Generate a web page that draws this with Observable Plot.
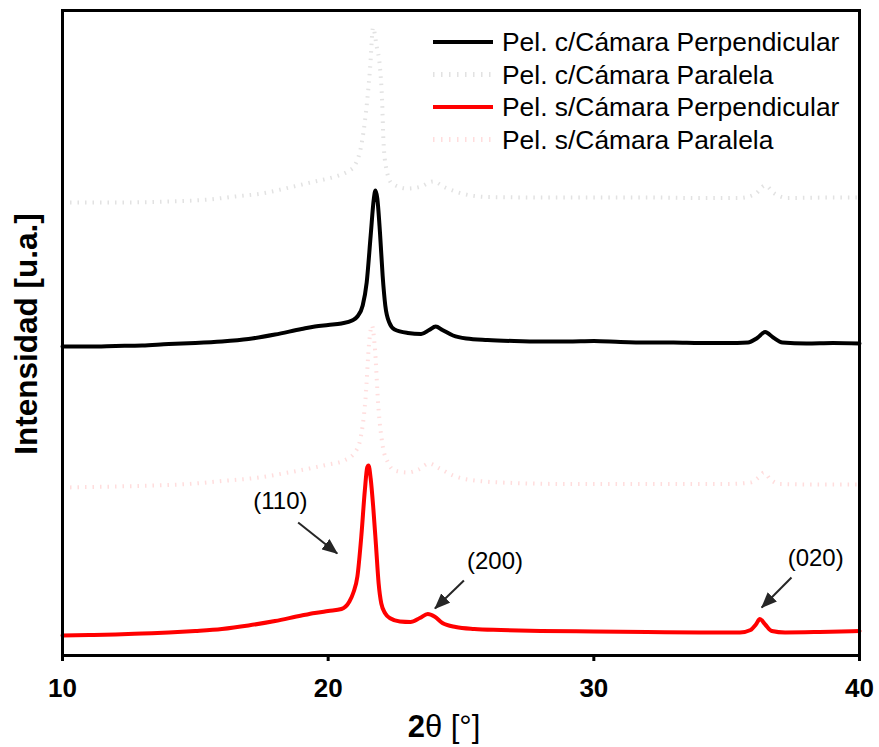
<!DOCTYPE html>
<html>
<head>
<meta charset="utf-8">
<script src="https://cdn.jsdelivr.net/npm/d3@7"></script>
<script src="https://cdn.jsdelivr.net/npm/@observablehq/plot@0.6"></script>
<style>
  html, body { margin: 0; padding: 0; background: #fff; }
  #chart { width: 879px; height: 747px; }
</style>
</head>
<body>
<div id="chart"></div>
<script>
// XRD patterns, 2θ (degrees) vs intensity (arbitrary units)

// Pel. c/Cámara Perpendicular
const cPerpX = [10, 11, 12, 13, 14, 15, 16, 17, 18, 19, 19.5, 20, 20.5, 20.9, 21.1, 21.3, 21.45, 21.6, 21.72, 21.78, 21.85, 21.95, 22.05, 22.15, 22.3, 22.5, 23, 23.5, 23.8, 24.05, 24.3, 24.7, 25.2, 26, 27, 28, 29, 30, 31, 32, 33, 34, 35, 35.8, 36.15, 36.45, 36.75, 37.1, 38, 39, 40];
const cPerpY = [3090, 3090, 3095, 3100, 3115, 3125, 3140, 3165, 3210, 3265, 3290, 3305, 3320, 3350, 3390, 3500, 3730, 4200, 4570, 4650, 4570, 4230, 3800, 3500, 3330, 3260, 3225, 3215, 3255, 3290, 3255, 3200, 3170, 3155, 3145, 3140, 3140, 3145, 3135, 3130, 3130, 3125, 3125, 3130, 3175, 3235, 3180, 3130, 3120, 3125, 3120];

// Pel. c/Cámara Paralela
const cParX = [10, 12, 14, 15.5, 16.5, 17.5, 18.7, 19.5, 20, 20.5, 20.8, 21, 21.28, 21.47, 21.58, 21.69, 21.82, 21.95, 22.03, 22.08, 22.18, 22.4, 23, 23.5, 23.95, 24.4, 24.9, 26, 28, 30, 32, 34, 35.5, 36.1, 36.45, 36.8, 37.3, 39, 40];
const cParY = [4530, 4530, 4540, 4560, 4590, 4620, 4690, 4740, 4770, 4810, 4850, 4900, 5150, 5550, 5880, 6280, 6100, 5880, 5550, 5150, 4880, 4720, 4670, 4690, 4740, 4680, 4630, 4585, 4580, 4580, 4580, 4575, 4575, 4620, 4700, 4620, 4575, 4580, 4580];

// Pel. s/Cámara Perpendicular
const sPerpX = [10, 11, 12, 13, 14, 15, 16, 17, 18, 19, 19.5, 20, 20.5, 20.8, 20.95, 21.1, 21.25, 21.38, 21.47, 21.52, 21.6, 21.7, 21.8, 21.9, 22, 22.15, 22.35, 22.7, 23.1, 23.45, 23.75, 24, 24.3, 24.8, 25.5, 26.5, 28, 30, 32, 34, 35.5, 35.9, 36.1, 36.25, 36.45, 36.7, 37.2, 38.5, 40];
const sPerpY = [200, 205, 210, 220, 230, 245, 265, 300, 345, 400, 425, 445, 465, 540, 630, 790, 1200, 1650, 1880, 1900, 1770, 1470, 1100, 720, 520, 420, 370, 340, 335, 375, 415, 390, 325, 285, 265, 255, 245, 240, 235, 230, 230, 255, 310, 365, 310, 245, 230, 235, 245];

// Pel. s/Cámara Paralela
const sParX = [10, 12, 14, 15, 16, 17.4, 18.5, 19.3, 20, 20.6, 21, 21.2, 21.4, 21.55, 21.65, 21.75, 21.9, 22.05, 22.25, 22.5, 23, 23.4, 23.8, 24.2, 24.7, 25.5, 27, 29, 31, 33, 35, 35.9, 36.2, 36.4, 36.65, 37, 38.5, 40];
const sParY = [1680, 1690, 1705, 1720, 1745, 1780, 1830, 1870, 1910, 1950, 2030, 2150, 2550, 3150, 3300, 3100, 2450, 2100, 1930, 1850, 1830, 1860, 1920, 1870, 1800, 1750, 1725, 1715, 1715, 1715, 1715, 1730, 1780, 1830, 1760, 1715, 1710, 1710];

// Reflection labels: text position and arrow from/to (2θ, intensity)
const peakLabels = ["(110)", "(200)", "(020)"];
const labelX = [18.2, 26.28, 38.35];
const labelY = [1540, 940, 970];
const arrowX1 = [18.87, 25.11, 37.44];
const arrowY1 = [1330, 750, 780];
const arrowX2 = [20.34, 24.02, 36.32];
const arrowY2 = [1020, 470, 480];

const xTicks = [10, 20, 30, 40];
const seriesNames = [
  "Pel. c/Cámara Perpendicular",
  "Pel. c/Cámara Paralela",
  "Pel. s/Cámara Perpendicular",
  "Pel. s/Cámara Paralela"
];

const toRows = (xs, ys) => xs.map((x, i) => ({x, y: ys[i]}));
const cPerp = toRows(cPerpX, cPerpY);
const cPar = toRows(cParX, cParY);
const sPerp = toRows(sPerpX, sPerpY);
const sPar = toRows(sParX, sParY);
const notes = peakLabels.map((label, i) => ({
  label, tx: labelX[i], ty: labelY[i],
  x1: arrowX1[i], y1: arrowY1[i], x2: arrowX2[i], y2: arrowY2[i]
}));

const FONT = "'Liberation Sans', Arial, Helvetica, sans-serif";
const styles = [
  {stroke: "#000000", strokeWidth: 4, dash: null},
  {stroke: "#e2e2e2", strokeWidth: 4, dash: "1.5,6"},
  {stroke: "#ff0000", strokeWidth: 4, dash: null},
  {stroke: "#ffdddd", strokeWidth: 4, dash: "1.5,6"}
];

const lineOpts = (s) => ({
  x: "x", y: "y", stroke: s.stroke, strokeWidth: s.strokeWidth,
  strokeDasharray: s.dash ?? undefined, curve: "monotone-x",
  strokeLinejoin: "round", strokeLinecap: s.dash ? "butt" : "round"
});

const chart = Plot.plot({
  width: 879,
  height: 747,
  marginTop: 10,
  marginRight: 20,
  marginBottom: 92,
  marginLeft: 62,
  style: {fontFamily: FONT, background: "#fff", color: "#000"},
  x: {domain: [10, 40]},
  y: {domain: [0, 6450], axis: null},
  marks: [
    Plot.lineY(cPar, lineOpts(styles[1])),
    Plot.lineY(sPar, lineOpts(styles[3])),
    Plot.lineY(cPerp, lineOpts(styles[0])),
    Plot.lineY(sPerp, lineOpts(styles[2])),
    Plot.link(notes, {x1: "x1", y1: "y1", x2: "x2", y2: "y2", stroke: "#262626", strokeWidth: 2}),
    Plot.text(notes, {x: "tx", y: "ty", text: "label", fontSize: 24, fill: "#000", fontFamily: FONT}),
    Plot.frame({stroke: "#000", strokeWidth: 3}),
    Plot.axisX({ticks: xTicks, tickSize: 6, tickPadding: 17, strokeWidth: 3, fontSize: 26, fontWeight: "bold", label: null, fontFamily: FONT})
  ]
});

const svg = d3.select(chart.tagName.toLowerCase() === "svg" ? chart : chart.querySelector("svg"));

// filled arrowheads on the annotation links
const defs = svg.append("defs");
defs.append("marker")
  .attr("id", "peak-head")
  .attr("markerUnits", "userSpaceOnUse")
  .attr("viewBox", "0 0 16 13")
  .attr("markerWidth", 16)
  .attr("markerHeight", 13)
  .attr("refX", 15)
  .attr("refY", 6.5)
  .attr("orient", "auto")
  .append("path")
  .attr("d", "M0,0L16,6.5L0,13Z")
  .attr("fill", "#262626");
svg.selectAll('g[aria-label="link"] path').attr("marker-end", "url(#peak-head)");

// legend inside the plot frame
const legend = svg.append("g")
  .attr("font-family", FONT)
  .attr("font-size", 26.4)
  .attr("text-anchor", "start");
seriesNames.forEach((name, i) => {
  const y = 42 + i * 32.5;
  const s = styles[i];
  legend.append("line")
    .attr("x1", 433).attr("x2", 493).attr("y1", y).attr("y2", y)
    .attr("stroke", s.stroke).attr("stroke-width", s.dash ? 5 : 4)
    .attr("stroke-dasharray", s.dash ? "1.5,6.5" : null);
  legend.append("text")
    .attr("x", 502).attr("y", y + 9)
    .attr("text-anchor", "start")
    .attr("fill", "#000")
    .text(name);
});

// axis titles
svg.append("text")
  .attr("transform", "translate(37,334) rotate(-90)")
  .attr("text-anchor", "middle")
  .attr("font-family", FONT)
  .attr("font-weight", "bold")
  .attr("font-size", 31.5)
  .attr("fill", "#000")
  .text("Intensidad [u.a.]");

const xt = svg.append("text")
  .attr("x", 444).attr("y", 737)
  .attr("text-anchor", "middle")
  .attr("font-family", FONT)
  .attr("font-size", 31)
  .attr("fill", "#000");
xt.append("tspan").attr("font-weight", "bold").text("2");
xt.append("tspan").text("θ [°]");

document.getElementById("chart").appendChild(chart);
</script>
</body>
</html>
